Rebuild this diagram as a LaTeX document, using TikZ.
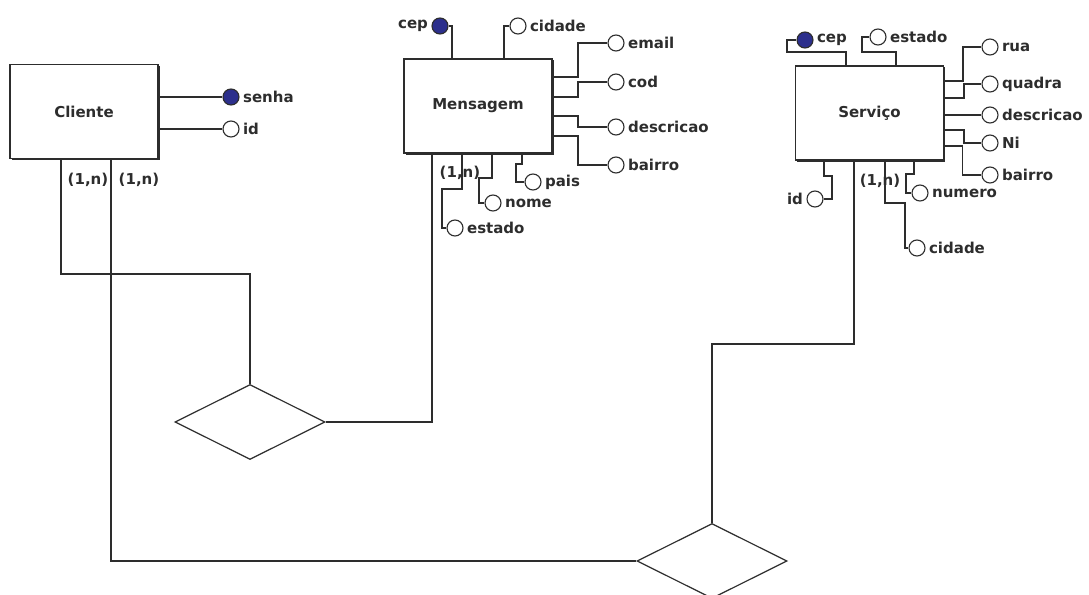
\documentclass[tikz,border=0pt]{standalone}
\usepackage{fontspec}
\setmainfont{DejaVu Sans}
\usetikzlibrary{positioning,shapes.geometric,shadows}
\definecolor{keyblue}{RGB}{44,47,140}
\definecolor{inkgray}{RGB}{45,45,45}

\begin{document}
\begin{tikzpicture}[
    x=1pt, y=-1pt,
    every node/.style={font=\fontsize{15}{17}\selectfont\bfseries, text=inkgray},
    line/.style={draw=inkgray, line width=1.5pt},
    entity/.style={draw=inkgray, line width=1.6pt, fill=white, inner sep=0pt,
      minimum width=148pt, minimum height=94pt,
      drop shadow={shadow xshift=1.5pt, shadow yshift=-1.5pt, opacity=1, fill=inkgray}},
    attr/.style={circle, draw=inkgray, line width=1.1pt, fill=white, minimum size=16pt, inner sep=0pt},
    keyattr/.style={attr, fill=keyblue},
    relation/.style={diamond, draw=inkgray, line width=1.2pt, minimum width=150pt, minimum height=75pt, inner sep=0pt},
    card/.style={inner sep=1pt}
  ]
    \useasboundingbox[fill=white] (0,0) rectangle (1089,594);

    % entities
    \node[entity] (cli) at (84,111.5) {Cliente};
    \node[entity] (mens) at (478,106) {Mensagem};
    \node[entity] (serv) at (869.5,113) {Serviço};

    % relationships
    \node[relation] (rel-a) at (250,422) {};
    \node[relation] (rel-b) at (712,561) {};

    % Cliente attributes
    \node[keyattr] (c-senha) at (231,97) {};
    \node[right=0pt of c-senha] (c-senha-t) {senha};
    \node[attr] (c-id) at (231,129) {};
    \node[right=0pt of c-id] (c-id-t) {id};
    \draw[line] (c-senha -| cli.east) -- (c-senha);
    \draw[line] (c-id -| cli.east) -- (c-id);

    % Mensagem attributes
    \node[keyattr] (m-cep) at (440,26) {};
    \node[left=0pt of m-cep] (m-cep-t) {cep};
    \node[attr] (m-cidade) at (518,26) {};
    \node[right=0pt of m-cidade] (m-cidade-t) {cidade};
    \node[attr] (m-email) at (616,43) {};
    \node[right=0pt of m-email] (m-email-t) {email};
    \node[attr] (m-cod) at (616,82) {};
    \node[right=0pt of m-cod] (m-cod-t) {cod};
    \node[attr] (m-desc) at (616,127) {};
    \node[right=0pt of m-desc] (m-desc-t) {descricao};
    \node[attr] (m-bairro) at (616,165) {};
    \node[right=0pt of m-bairro] (m-bairro-t) {bairro};
    \node[attr] (m-estado) at (455,228) {};
    \node[right=0pt of m-estado] (m-estado-t) {estado};
    \node[attr] (m-nome) at (493,203) {};
    \node[right=0pt of m-nome] (m-nome-t) {nome};
    \node[attr] (m-pais) at (533,182) {};
    \node[right=0pt of m-pais] (m-pais-t) {pais};
    \draw[line] ([xshift=49pt]mens.north west) |- (m-cep);
    \draw[line] ([xshift=101pt]mens.north west) |- (m-cidade);
    \draw[line] ([yshift=-19pt]mens.north east) -- ++(25,0) |- (m-email);
    \draw[line] ([yshift=-39pt]mens.north east) -- ++(25,0) |- (m-cod);
    \draw[line] ([yshift=-58pt]mens.north east) -- ++(25,0) |- (m-desc);
    \draw[line] ([yshift=-78pt]mens.north east) -- ++(25,0) |- (m-bairro);
    \draw[line] ([xshift=59pt]mens.south west) -- ++(0,35) -- ++(-20,0) |- (m-estado);
    \draw[line] ([xshift=89pt]mens.south west) -- ++(0,24) -- ++(-13,0) |- (m-nome);
    \draw[line] ([xshift=119pt]mens.south west) -- ++(0,10) -- ++(-6,0) |- (m-pais);

    % Serviço attributes
    \node[keyattr] (s-cep) at (805,40) {};
    \node[right=0pt of s-cep] (s-cep-t) {cep};
    \node[attr] (s-estado) at (878,37) {};
    \node[right=0pt of s-estado] (s-estado-t) {estado};
    \node[attr] (s-rua) at (990,47) {};
    \node[right=0pt of s-rua] (s-rua-t) {rua};
    \node[attr] (s-quadra) at (990,84) {};
    \node[right=0pt of s-quadra] (s-quadra-t) {quadra};
    \node[attr] (s-desc) at (990,115) {};
    \node[right=0pt of s-desc] (s-desc-t) {descricao};
    \node[attr] (s-ni) at (990,143) {};
    \node[right=0pt of s-ni] (s-ni-t) {Ni};
    \node[attr] (s-bairro) at (990,175) {};
    \node[right=0pt of s-bairro] (s-bairro-t) {bairro};
    \node[attr] (s-id) at (815,199) {};
    \node[left=0pt of s-id] (s-id-t) {id};
    \node[attr] (s-numero) at (920,193) {};
    \node[right=0pt of s-numero] (s-numero-t) {numero};
    \node[attr] (s-cidade) at (917,248) {};
    \node[right=0pt of s-cidade] (s-cidade-t) {cidade};
    \draw[line] ([xshift=51.5pt]serv.north west) -- ++(0,-13) -- ++(-59,0) |- (s-cep);
    \draw[line] ([xshift=101.5pt]serv.north west) -- ++(0,-13) -- ++(-34,0) |- (s-estado);
    \draw[line] ([yshift=-16pt]serv.north east) -- ++(18.5,0) |- (s-rua);
    \draw[line] ([yshift=-33pt]serv.north east) -- ++(19.5,0) |- (s-quadra);
    \draw[line] (s-desc -| serv.east) -- (s-desc);
    \draw[line] ([yshift=-65pt]serv.north east) -- ++(19.5,0) |- (s-ni);
    \draw[line] ([yshift=-81pt]serv.north east) -- ++(18,0) |- (s-bairro);
    \draw[line] ([xshift=29.5pt]serv.south west) -- ++(0,15) -- ++(8,0) |- (s-id);
    \draw[line] ([xshift=119.5pt]serv.south west) -- ++(0,13) -- ++(-8,0) |- (s-numero);
    \draw[line] ([xshift=90.5pt]serv.south west) -- ++(0,42) -- ++(20,0) |- (s-cidade);

    % connections
    \draw[line] ([xshift=52pt]cli.south west) -- ++(0,114.5) -| (rel-a);
    \draw[line] ([xshift=102pt]cli.south west) |- (rel-b);
    \draw[line] ([xshift=29pt]mens.south west) |- (rel-a);
    \draw[line] ([xshift=59.5pt]serv.south west) -- ++(0,183) -| (rel-b);

    % cardinalities
    \node[card] (k-cli-a) at (88,180) {(1,n)};
    \node[card] (k-cli-b) at (139,180) {(1,n)};
    \node[card] (k-mens) at (460,173) {(1,n)};
    \node[card] (k-serv) at (880,181) {(1,n)};
  \end{tikzpicture}
\end{document}
